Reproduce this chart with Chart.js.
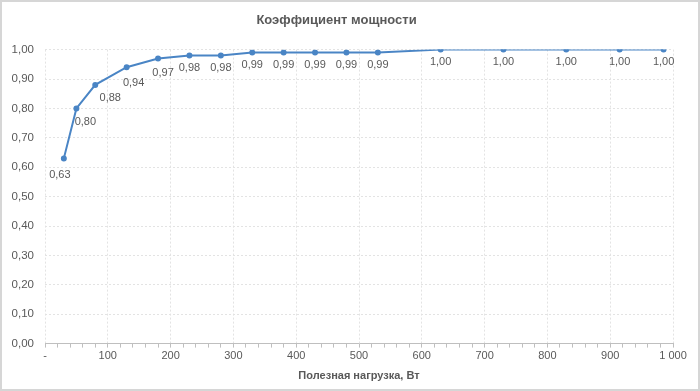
<!DOCTYPE html>
<html>
<head>
<meta charset="utf-8">
<script src="https://cdn.jsdelivr.net/npm/chart.js@4.4.1/dist/chart.umd.min.js"></script>
<style>
    html, body { margin: 0; padding: 0; background: #fff; }
    #wrap { position: relative; width: 700px; height: 391px; }
</style>
</head>
<body>
<div id="wrap"><canvas id="grafica" width="700" height="391"></canvas></div>
<script>
// нагрузка, Вт
const nagruzka = [30, 50, 80, 130, 180, 230, 280, 330, 380, 430, 480, 530, 630, 730, 830, 915, 985];
// коэффициент мощности
const koef = [0.63, 0.80, 0.88, 0.94, 0.97, 0.98, 0.98, 0.99, 0.99, 0.99, 0.99, 0.99, 1.00, 1.00, 1.00, 1.00, 1.00];

const yTicks = [0, 0.1, 0.2, 0.3, 0.4, 0.5, 0.6, 0.7, 0.8, 0.9, 1.0];

// сдвиг подписей от точки (dx, dy)
const sdvig = [[-4, 17], [9, 14], [15, 13], [7, 16], [5, 15], [0, 12], [0, 12],
    [0, 12], [0, 12], [0, 12], [0, 12], [0, 12], [0, 12], [0, 12], [0, 12], [0, 12], [0, 12]];

const grey = "#595959";
const fontFam = "'Liberation Sans', Arial, sans-serif";

function fmt(v) {
    return v.toFixed(2).replace(".", ",");
}

const ramka = {
    id: "ramka",
    beforeDraw(chart) {
        const c = chart.ctx;
        c.save();
        c.fillStyle = "#d6d6d6";
        c.fillRect(0, 0, chart.width, chart.height);
        c.fillStyle = "#ffffff";
        c.fillRect(2, 2, chart.width - 4, chart.height - 4);
        c.restore();
    }
};

const podpisi = {
    id: "podpisi",
    afterDatasetsDraw(chart) {
        const c = chart.ctx;
        const meta = chart.getDatasetMeta(0);
        c.save();
        c.font = "11px " + fontFam;
        c.fillStyle = grey;
        c.textAlign = "center";
        c.textBaseline = "middle";
        meta.data.forEach((p, i) => {
            const s = sdvig[i] || [0, 12];
            c.fillText(fmt(koef[i]), p.x + s[0], p.y + s[1]);
        });
        c.restore();
    }
};

const ctx = document.getElementById("grafica");

new Chart(ctx, {
    type: "line",
    data: {
        datasets: [{
            data: nagruzka.map((x, i) => ({ x: x, y: koef[i] })),
            borderColor: "#4a85c5",
            backgroundColor: "#4a85c5",
            borderWidth: 2,
            pointRadius: 2,
            pointHoverRadius: 2,
            tension: 0
        }]
    },
    options: {
        responsive: false,
        animation: false,
        layout: { padding: { left: 0, right: 27, top: 0, bottom: 8 } },
        plugins: {
            legend: { display: false },
            tooltip: { enabled: false },
            title: {
                display: true,
                text: "Коэффициент мощности",
                color: grey,
                font: { family: fontFam, size: 13, weight: "bold" },
                padding: { top: 13, bottom: 21 }
            }
        },
        scales: {
            x: {
                type: "linear",
                min: 0,
                max: 1000,
                grid: {
                    color: c => (c.tick && c.tick.value % 100 === 0) ? "#e3e3e3" : "rgba(0,0,0,0)",
                    tickColor: "#bfbfbf",
                    tickLength: 4,
                    drawTicks: true
                },
                border: { display: true, color: "#bfbfbf", dash: [2, 2] },
                ticks: {
                    stepSize: 20,
                    autoSkip: false,
                    maxRotation: 0,
                    padding: 2,
                    color: grey,
                    font: { family: fontFam, size: 11 },
                    callback: v => {
                        if (v % 100 !== 0) return "";
                        if (v === 0) return "-";
                        return v >= 1000 ? "1 000" : String(v);
                    }
                },
                title: {
                    display: true,
                    text: "Полезная нагрузка, Вт",
                    color: grey,
                    font: { family: fontFam, size: 11, weight: "bold" },
                    padding: { top: 5, bottom: 0 }
                }
            },
            y: {
                min: 0,
                max: 1,
                afterBuildTicks: s => { s.ticks = yTicks.map(v => ({ value: v })); },
                afterFit: s => { s.width = 45; },
                grid: { color: "#e3e3e3", drawTicks: false },
                border: { display: false, dash: [2, 2] },
                ticks: {
                    padding: 11,
                    color: grey,
                    font: { family: fontFam, size: 11.5 },
                    callback: v => fmt(v)
                }
            }
        }
    },
    plugins: [ramka, podpisi]
});
</script>
</body>
</html>
